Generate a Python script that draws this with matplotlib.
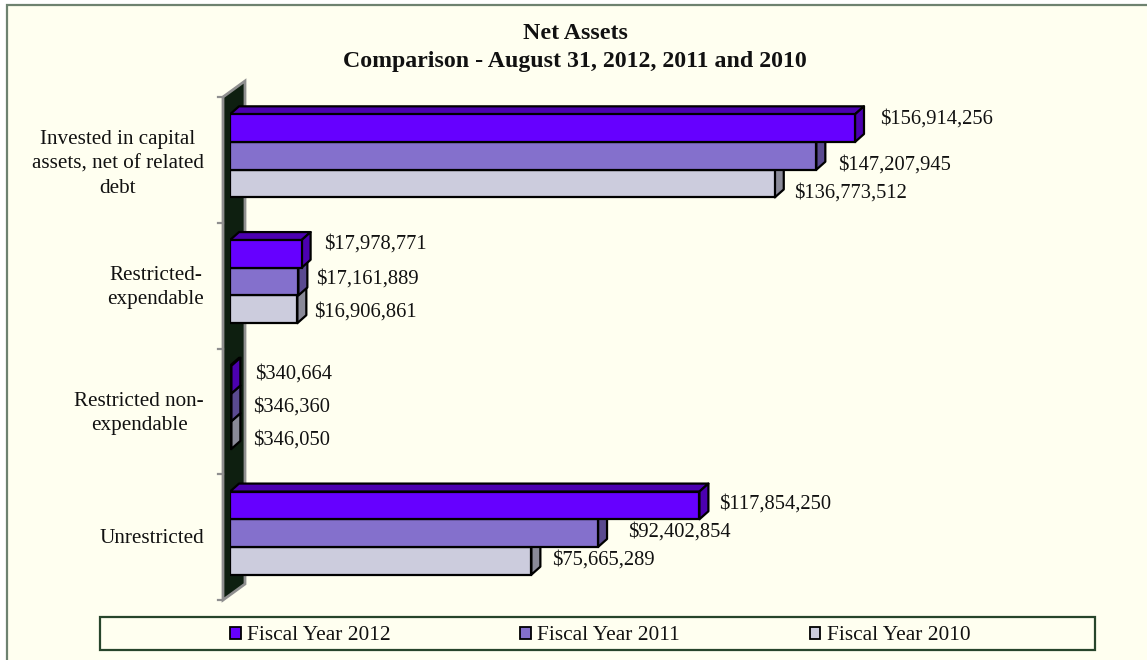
import matplotlib
matplotlib.use("Agg")
import matplotlib.pyplot as plt
from matplotlib.patches import Rectangle, Polygon, Patch
from matplotlib.transforms import Affine2D, IdentityTransform

W, H = 1147, 660
categories = ["Invested in capital\nassets, net of related\ndebt", "Restricted-\nexpendable",
              "Restricted non-\nexpendable", "Unrestricted"]
series_names = ["Fiscal Year 2012", "Fiscal Year 2011", "Fiscal Year 2010"]
fy2012 = [156914256, 17978771, 340664, 117854250]
fy2011 = [147207945, 17161889, 346360, 92402854]
fy2010 = [136773512, 16906861, 346050, 75665289]
front_colors = ["#6600FF", "#8470CC", "#CCCCDD"]
side_colors = ["#4C00B0", "#5A4A90", "#8A8A98"]

plt.rcParams["font.family"] = ["Liberation Serif", "DejaVu Serif"]
FS_LABEL = 14.8
FS_CAT = 15.2
BG = "#FFFFF0"
GREEN = "#27452B"
GREY = "#8F8F8F"
TEXT = "#111111"

fig = plt.figure(figsize=(W / 100, H / 100), dpi=100, facecolor="white")


def fx(p):
    return p / W


def fy(p):
    return 1 - p / H


fig.add_artist(Rectangle((fx(7.5), fy(H + 10)), fx(W + 10), fy(4.5) - fy(H + 10),
                         transform=fig.transFigure, facecolor=BG, edgecolor="#6E8270", linewidth=1.6,
                         zorder=-2))

ax_l, ax_r, ax_t, ax_b = 230, 1030, 97, 600
PX_PER_UNIT = 3.983e-6
ax = fig.add_axes([fx(ax_l), fy(ax_b), fx(ax_r - ax_l), (ax_b - ax_t) / H])
ax.set_xlim(0, (ax_r - ax_l) / PX_PER_UNIT)
ax.set_ylim(4, 0)
ax.patch.set_visible(False)
for s in ax.spines.values():
    s.set_visible(False)
ax.set_xticks([])
ax.set_yticks([])

wall = fig.add_axes([0, 0, 1, 1])
wall.set_xlim(0, W)
wall.set_ylim(H, 0)
wall.axis("off")
wall.patch.set_visible(False)
wall.set_zorder(1)
ax.set_zorder(2)
wx0, wx1 = ax_l - 7, ax_l + 15
wall.add_patch(Polygon([(wx0, ax_t), (wx1, ax_t - 16), (wx1, ax_b - 16), (wx0, ax_b)],
                       facecolor="#0E1F10", edgecolor=GREY, linewidth=2))
for i in range(5):
    yp = ax_t + i * (ax_b - ax_t) / 4
    wall.plot([wx0 - 5, wx0], [yp, yp], color=GREY, lw=1.6)
cat_dy = [4, 2, 2, 1]
for i, c in enumerate(categories):
    yp = ax_t + (i + 0.5) * (ax_b - ax_t) / 4
    wall.text(204, yp + cat_dy[i], c, ha="right", va="center", fontsize=FS_CAT, linespacing=1.38,
              multialignment="center", color=TEXT)

DX, DY = 9, 8
front_tr = ax.transData + Affine2D().translate(0, 4)
BAR_H = 27.7 / ((ax_b - ax_t) / 4)
values = [fy2012, fy2011, fy2010]
edge = dict(edgecolor="black", linewidth=1.6, joinstyle="round", transform=IdentityTransform())

for ci in range(4):
    for si in (2, 1, 0):
        v = values[si][ci]
        y0 = ci + 0.5 + (si - 1.5) * BAR_H
        y1 = y0 + BAR_H
        p00 = front_tr.transform((0, y0))
        p10 = front_tr.transform((v, y0))
        p11 = front_tr.transform((v, y1))
        top = [p00, p10, p10 + (DX, DY), p00 + (DX, DY)]
        side = [p10, p11, p11 + (DX, DY), p10 + (DX, DY)]
        ax.add_patch(Polygon(top, closed=True, facecolor=side_colors[si], **edge))
        ax.add_patch(Polygon(side, closed=True, facecolor=side_colors[si], **edge))
        ax.barh(y0 + BAR_H / 2, v, height=BAR_H, color=front_colors[si], edgecolor="black",
                linewidth=1.6, transform=front_tr)

label_x = [
    [880, 324, 255, 719],
    [838, 316, 253, 628],
    [794, 314, 253, 552],
]
label_y = [
    [119, 244, 374, 504],
    [165, 279, 407, 532],
    [193, 312, 440, 560],
]
for si in range(3):
    for ci in range(4):
        fig.text(fx(label_x[si][ci]), fy(label_y[si][ci]), f"${values[si][ci]:,}", ha="left", va="center",
                 fontsize=FS_LABEL, zorder=5, color=TEXT)

fig.add_artist(Rectangle((fx(100), fy(650)), fx(995), fy(617) - fy(650), transform=fig.transFigure,
                         facecolor=BG, edgecolor=GREEN, linewidth=1.6, zorder=-1))
handles = [Patch(facecolor=front_colors[i], edgecolor="black", linewidth=1.3, label=series_names[i])
           for i in range(3)]
fig.legend(handles=handles, loc="center left", bbox_to_anchor=(fx(213), fy(636)), ncols=3, frameon=False,
           fontsize=15.4, handlelength=0.5, handleheight=0.5, handletextpad=0.3, columnspacing=6.05,
           borderpad=0.3, labelspacing=0, labelcolor=TEXT)

fig.suptitle("Net Assets\nComparison - August 31, 2012, 2011 and 2010", x=fx(575), y=fy(23), va="top",
             fontsize=17.2, fontweight="bold", linespacing=1.42, color=TEXT)
fig.savefig("out.png", dpi=100, facecolor="white")
